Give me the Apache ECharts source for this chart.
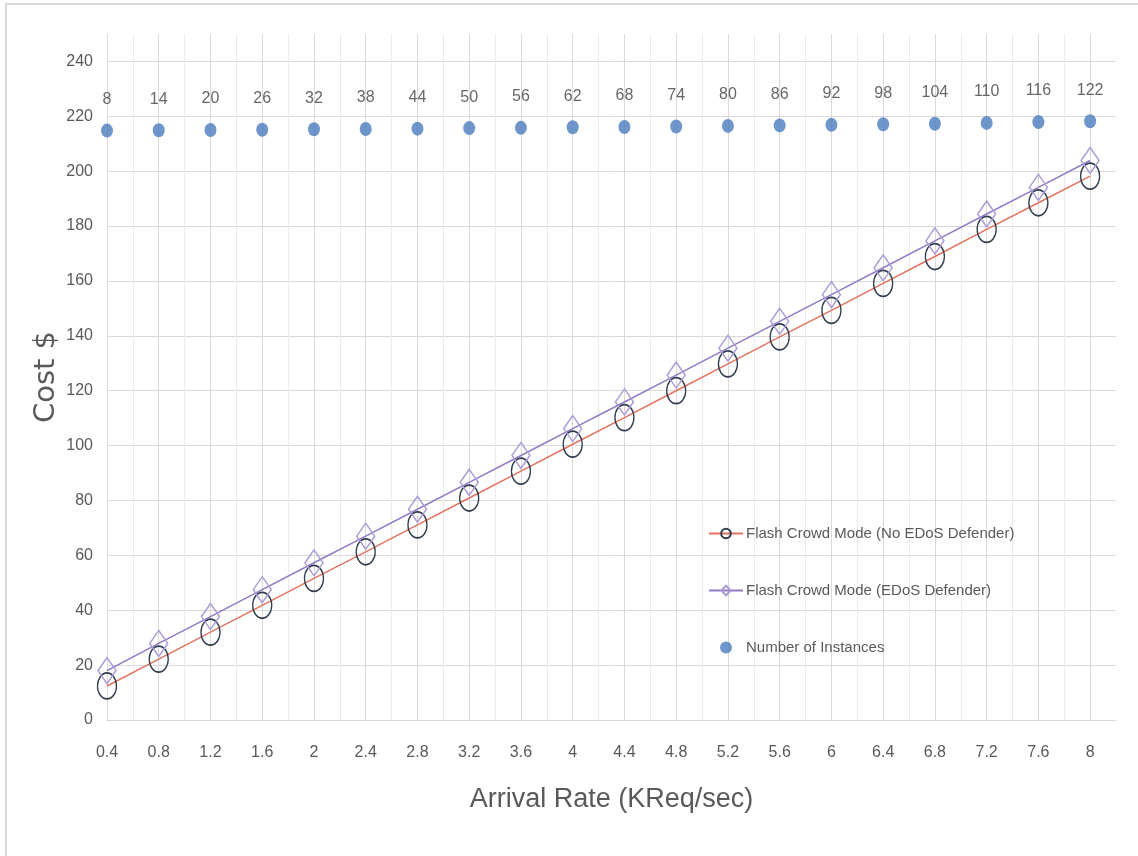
<!DOCTYPE html>
<html>
<head>
<meta charset="utf-8">
<script src="https://cdn.jsdelivr.net/npm/echarts@6/dist/echarts.min.js"></script>
<style>html,body{margin:0;padding:0;background:#fff}#c{width:1138px;height:856px}</style>
</head>
<body>
<div id="c"></div>
<script>
const arrivalRates = [0.4,0.8,1.2,1.6,2,2.4,2.8,3.2,3.6,4,4.4,4.8,5.2,5.6,6,6.4,6.8,7.2,7.6,8];
const costNoDefender = [12.4,22.2,32.0,41.8,51.6,61.3,71.1,80.9,90.7,100.5,110.2,120.0,129.8,139.6,149.3,159.1,168.9,178.8,188.5,198.2];
const costDefender = [18.0,27.9,37.7,47.5,57.3,67.0,76.8,86.6,96.4,106.2,115.9,125.7,135.5,145.3,155.0,164.8,174.6,184.4,194.1,203.9];
const instancePlotY = [214.8,214.9,215.0,215.1,215.3,215.4,215.5,215.7,215.8,216.0,216.1,216.3,216.5,216.7,216.9,217.1,217.3,217.6,217.9,218.2];
const instances = [8,14,20,26,32,38,44,50,56,62,68,74,80,86,92,98,104,110,116,122];
const seriesNames = ['Flash Crowd Mode (No EDoS Defender)','Flash Crowd Mode (EDoS Defender)','Number of Instances'];

const FONT = "'Liberation Sans Narrow', 'Liberation Sans', sans-serif";
const grid = '#d9d9d9';
const pair = (ys) => arrivalRates.map((x, i) => [x, ys[i]]);

const chart = echarts.init(document.getElementById('c'));
chart.setOption({
  animation: false,
  backgroundColor: '#fff',
  graphic: [{
    type: 'rect', shape: {x: 6, y: 4, width: 1300, height: 1000},
    style: {fill: 'none', stroke: '#d9d9d9', lineWidth: 2}, silent: true
  }],
  grid: {left: 107, right: 22, top: 34, bottom: 136, containLabel: false},
  xAxis: {
    type: 'value', min: 0.4, max: 8.2, interval: 0.4,
    name: 'Arrival Rate (KReq/sec)', nameLocation: 'middle', nameGap: 66, nameMoveOverlap: false,
    nameTextStyle: {fontFamily: FONT, fontSize: 27, color: '#595959'},
    axisLine: {show: true, lineStyle: {color: grid, width: 1}},
    axisTick: {show: false},
    axisLabel: {fontFamily: FONT, fontSize: 16, color: '#595959', margin: 25, showMaxLabel: false,
      formatter: v => (Math.round(v * 10) / 10).toString()},
    splitLine: {show: true, lineStyle: {color: [...Array(20).fill(grid), 'rgba(0,0,0,0)'], width: 1}},
    minorTick: {show: false, splitNumber: 2},
    minorSplitLine: {show: true, lineStyle: {color: '#ebebeb', width: 1}}
  },
  yAxis: {
    type: 'value', min: 0, max: 250, interval: 20,
    name: 'Cost $', nameLocation: 'middle', nameGap: 46, nameRotate: 90, nameMoveOverlap: false,
    nameTextStyle: {fontFamily: "'DejaVu Sans', sans-serif", fontSize: 29, color: '#595959'},
    axisLine: {show: false},
    axisTick: {show: false},
    axisLabel: {fontFamily: FONT, fontSize: 16, color: '#595959', margin: 14, showMaxLabel: false},
    splitLine: {show: true, lineStyle: {color: [...Array(13).fill(grid), 'rgba(0,0,0,0)'], width: 1}}
  },
  legend: {
    orient: 'vertical', left: 703, top: 521, itemGap: 42, itemWidth: 34, itemHeight: 12,
    textStyle: {fontFamily: FONT, fontSize: 15, color: '#595959', padding: [0, 0, 0, -2]},
    data: seriesNames
  },
  series: [
    {
      name: seriesNames[0], type: 'line', data: pair(costNoDefender),
      symbol: 'circle', symbolSize: [19, 26],
      lineStyle: {color: '#e2735f', width: 1.5},
      itemStyle: {color: 'rgba(255,255,255,0)', borderColor: '#2e3d4f', borderWidth: 1.5},
      z: 2
    },
    {
      name: seriesNames[1], type: 'line', data: pair(costDefender),
      symbol: 'diamond', symbolSize: [18, 26],
      lineStyle: {color: '#9179c4', width: 1.5},
      itemStyle: {color: 'rgba(255,255,255,0)', borderColor: '#ab9bd6', borderWidth: 1.5},
      z: 3
    },
    {
      name: seriesNames[2], type: 'scatter', data: pair(instancePlotY),
      symbol: 'circle', symbolSize: [12, 14],
      itemStyle: {color: '#4a7cbd'},
      label: {show: true, position: 'top', distance: 16, fontFamily: FONT, fontSize: 16, color: '#404040',
        formatter: p => String(instances[p.dataIndex])},
      z: 4
    }
  ]
});
</script>
</body>
</html>
